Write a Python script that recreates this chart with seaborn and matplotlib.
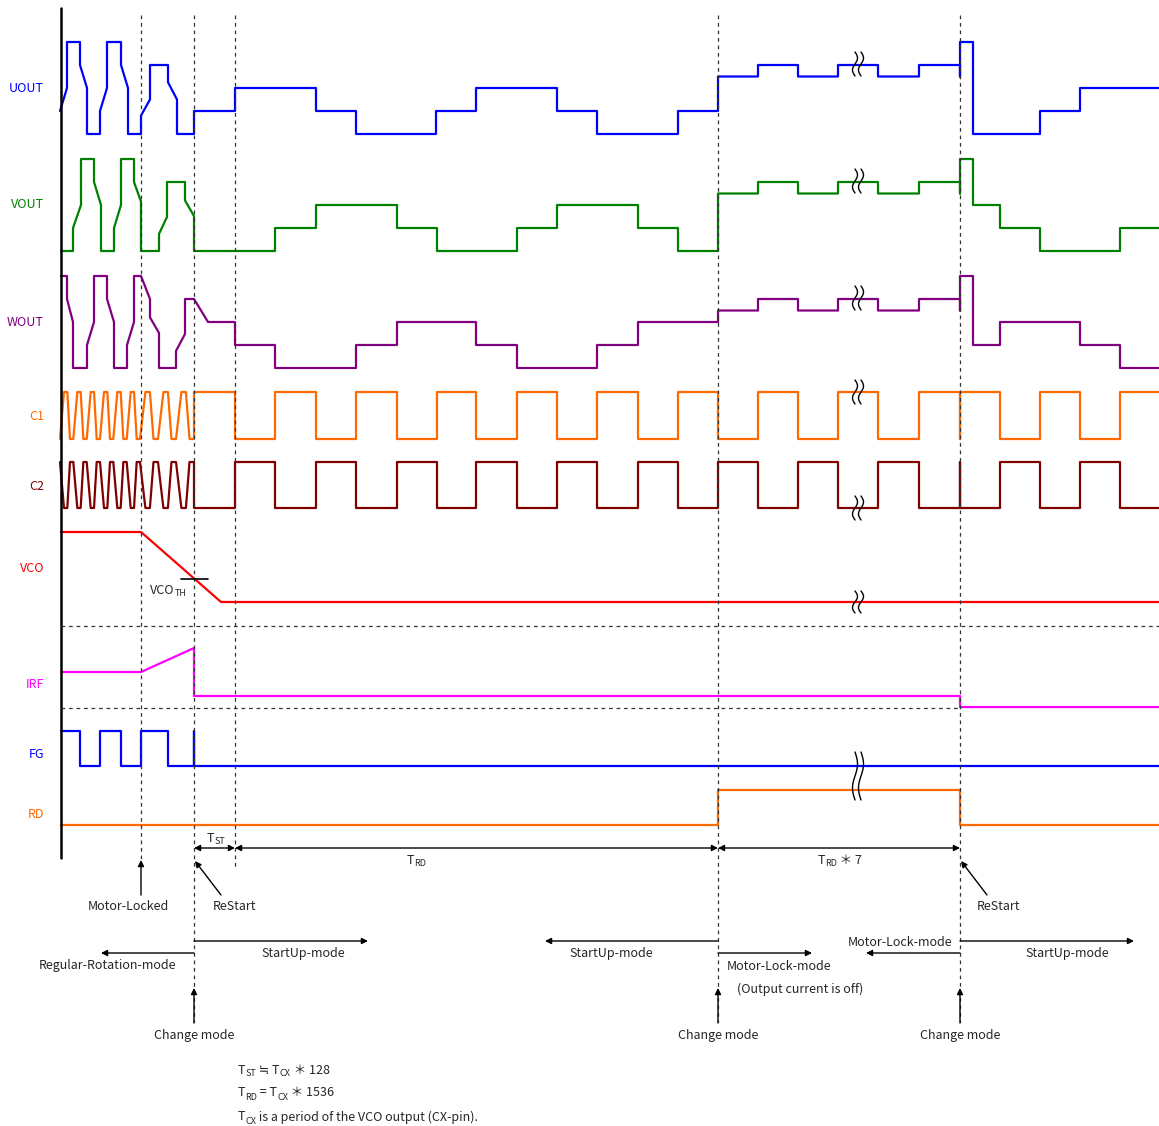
import matplotlib
matplotlib.use("Agg")
import matplotlib.pyplot as plt
import numpy as np
import pandas as pd
import seaborn as sns

sns.set_theme(style="white")
plt.rcParams['font.family'] = ['Noto Sans CJK JP', 'DejaVu Sans']

# ---- channel rows (time axis is in the drawing's own units) ----
channels = ['UOUT', 'VOUT', 'WOUT', 'C1', 'C2', 'VCO', 'IRF', 'FG', 'RD']
colors = ['#0000FF', '#008000', '#800080', '#FF6A00', '#800000',
          '#FF0000', '#FF00FF', '#0000FF', '#FF6A00']
baseline = [134, 251, 368, 439, 508, 602, 696, 766, 825]
unit = [23, 23, 23, 47, 46, 70, 24, 35, 35]
label_y = [88, 205, 322, 416, 486, 568, 685, 755, 814]

# ---- UOUT ----
uout_ramp_t = [60, 67, 67, 80, 80, 87, 87, 100, 100, 107, 107, 121, 121, 128, 128,
               141, 141, 150, 150, 168, 168, 177, 177, 194]
uout_ramp_v = [1, 2, 4, 4, 3, 2, 0, 0, 1, 2, 4, 4, 3, 2, 0,
               0, 0.8, 1.5, 3, 3, 2.25, 1.5, 0, 0]
uout_step_t = [194, 235, 316, 356, 436, 476, 557, 597, 678, 718, 758, 798, 838, 878, 919, 960]
uout_step_v = [1, 2, 1, 0, 1, 2, 1, 0, 1, 2.5, 3, 2.5, 3, 2.5, 3]
uout_tail_t = [960, 960, 973, 973, 1040, 1040, 1080, 1080, 1159]
uout_tail_v = [2.5, 4, 4, 0, 0, 1, 1, 2, 2]

# ---- VOUT ----
vout_ramp_t = [61, 73, 73, 81, 81, 94, 94, 101, 101, 114, 114, 121, 121, 134, 134,
               141, 141, 159, 159, 167, 167, 185, 185, 194]
vout_ramp_v = [0, 0, 1, 2, 4, 4, 3, 2, 0, 0, 1, 2, 4, 4, 3,
               2.15, 0, 0, 0.74, 1.48, 3, 3, 2.2, 1.52]
vout_step_t = [194, 275, 316, 397, 437, 517, 557, 638, 678, 718, 758, 798, 838, 878, 919, 960]
vout_step_v = [0, 1, 2, 1, 0, 1, 2, 1, 0, 2.5, 3, 2.5, 3, 2.5, 3]
vout_tail_t = [960, 960, 973, 973, 1000, 1000, 1040, 1040, 1120, 1120, 1159]
vout_tail_v = [2.5, 4, 4, 2, 2, 1, 1, 0, 0, 1, 1]

# ---- WOUT ----
wout_ramp_t = [61, 67, 67, 73, 73, 87, 87, 94, 94, 107, 107, 114, 114, 127, 127,
               134, 134, 141, 150, 150, 159, 159, 176, 176, 185, 185, 194, 208]
wout_ramp_v = [4, 4, 3, 2, 0, 0, 1, 2, 4, 4, 3, 2, 0, 0, 1,
               2, 4, 4, 3, 2.2, 1.52, 0, 0, 0.74, 1.48, 3, 3, 2]
wout_step_t = [208, 235, 275, 356, 397, 476, 517, 597, 638, 718, 758, 798, 838, 878, 919, 960]
wout_step_v = [2, 1, 0, 1, 2, 1, 0, 1, 2, 2.5, 3, 2.5, 3, 2.5, 3]
wout_tail_t = [960, 960, 973, 973, 1000, 1000, 1080, 1080, 1120, 1120, 1159]
wout_tail_v = [2.5, 4, 4, 1, 1, 2, 2, 1, 1, 0, 0]

# ---- C1 / C2 (C2 is the complement of C1) ----
osc_edges = [60, 73.3, 86.7, 100, 113.3, 126.7, 140, 158, 176, 194]
c1_step_t = [194, 235, 275, 316, 356, 397, 437, 476, 517, 557, 597, 638,
             678, 718, 758, 798, 838, 878, 919, 960]
c1_step_v = [1, 0, 1, 0, 1, 0, 1, 0, 1, 0, 1, 0, 1, 0, 1, 0, 1, 0, 1]
c1_tail_t = [960, 960, 1000, 1000, 1040, 1040, 1080, 1080, 1120, 1120, 1159]
c1_tail_v = [0, 1, 1, 0, 0, 1, 1, 0, 0, 1, 1]

# ---- VCO / IRF / FG / RD ----
vco_t = [61, 141, 221, 1159]
vco_v = [1, 1, 0, 0]
irf_t = [61, 141, 194, 194, 960, 960, 1159]
irf_v = [1, 1, 2, 0, 0, -0.46, -0.46]
fg_t = [61, 80, 80, 100, 100, 121, 121, 141, 141, 168, 168, 194, 194, 194, 1159]
fg_v = [1, 1, 0, 0, 1, 1, 0, 0, 1, 1, 0, 0, 1, 0, 0]
rd_t = [61, 718, 718, 960, 960, 1159]
rd_v = [0, 0, 1, 1, 0, 0]

# break marks: (y centre, half height)
break_x = 858
break_marks = [(64, 12), (181, 12), (298, 12), (392, 12), (508, 12), (602, 11), (776, 24)]


def steps(t, v):
    xs, ys = [], []
    for i, lev in enumerate(v):
        xs += [t[i], t[i + 1]]
        ys += [lev, lev]
    return xs, ys


def osc(edges, invert=False):
    xs, ys = [], []
    for s, e in zip(edges[:-1], edges[1:]):
        p = e - s
        xs += [s, s + 0.3 * p, s + 0.55 * p, s + 0.75 * p]
        ys += [0, 1, 1, 0]
    xs.append(edges[-1])
    ys.append(0)
    if invert:
        ys = [1 - y for y in ys]
    return xs, ys


def build(*parts):
    xs, ys = [], []
    for px, py in parts:
        xs += list(px)
        ys += list(py)
    return xs, ys


signals = {
    'UOUT': build((uout_ramp_t, uout_ramp_v), steps(uout_step_t, uout_step_v), (uout_tail_t, uout_tail_v)),
    'VOUT': build((vout_ramp_t, vout_ramp_v), steps(vout_step_t, vout_step_v), (vout_tail_t, vout_tail_v)),
    'WOUT': build((wout_ramp_t, wout_ramp_v), steps(wout_step_t, wout_step_v), (wout_tail_t, wout_tail_v)),
    'C1': build(osc(osc_edges), steps(c1_step_t, c1_step_v), (c1_tail_t, c1_tail_v)),
    'C2': build(osc(osc_edges, True), steps(c1_step_t, [1 - v for v in c1_step_v]),
                (c1_tail_t, [1 - v for v in c1_tail_v])),
    'VCO': (vco_t, vco_v),
    'IRF': (irf_t, irf_v),
    'FG': (fg_t, fg_v),
    'RD': (rd_t, rd_v),
}

fig = plt.figure(figsize=(11.59, 11.26), dpi=100)
ax = fig.add_axes([0, 0, 1, 1])

for i, name in enumerate(channels):
    xs, ys = signals[name]
    df = pd.DataFrame({'t': xs, 'y': [baseline[i] - v * unit[i] for v in ys]})
    sns.lineplot(data=df, x='t', y='y', ax=ax, sort=False, estimator=None,
                 color=colors[i], lw=1.6)
    ax.text(44, label_y[i], name, color=colors[i], fontsize=9, ha='right', va='center')

ax.set_xlim(0, 1159)
ax.set_ylim(1126, 0)
ax.axis('off')

renderer = fig.canvas.get_renderer()


def rich(x, y, parts, ha='left', size=9):
    # parts: (text, is_subscript); drawn one after another
    objs, cx = [], 0
    for s, sub in parts:
        t = ax.text(0, y + (4 if sub else 0), s, fontsize=size * 0.72 if sub else size,
                    ha='left', va='center')
        objs.append((t, cx))
        cx += t.get_window_extent(renderer).width
    x0 = x - cx / 2 if ha == 'center' else x
    for t, off in objs:
        t.set_x(x0 + off)


# left frame line
ax.plot([61, 61], [8, 858], color='black', lw=1.8)

# dashed guides
dash = dict(color='#333333', lw=0.9, ls=(0, (3, 3)))
for x, y1 in [(141, 868), (194, 1022), (235, 870), (718, 1022), (960, 1022)]:
    ax.plot([x, x], [15, y1], **dash)
ax.plot([61, 1159], [626, 626], **dash)
ax.plot([61, 960], [708, 708], **dash)

# VCO threshold marker
ax.plot([181, 208], [579, 579], color='black', lw=1.2)
rich(168, 590, [('VCO', 0), ('TH', 1)], ha='center')

# break marks
u = np.linspace(0, 1, 40)
for yc, h in break_marks:
    for dx in (-3, 3):
        ax.plot(break_x + dx + 2.5 * np.sin(2 * np.pi * u), yc - h + 2 * h * u,
                color='black', lw=1.0)


def arrow(x0, y0, x1, y1, style='-|>'):
    ax.annotate('', xy=(x1, y1), xytext=(x0, y0),
                arrowprops=dict(arrowstyle=style, color='black', lw=1.0,
                                mutation_scale=9, shrinkA=0, shrinkB=0))


# timing spans
arrow(194, 848, 235, 848, '<|-|>')
arrow(235, 848, 718, 848, '<|-|>')
arrow(718, 848, 960, 848, '<|-|>')
rich(216, 838, [('T', 0), ('ST', 1)], ha='center')
rich(416, 860, [('T', 0), ('RD', 1)], ha='center')
rich(840, 860, [('T', 0), ('RD', 1), (' ＊ 7', 0)], ha='center')

# event pointers
arrow(141, 895, 141, 860)
ax.text(128, 907, 'Motor-Locked', fontsize=9, ha='center', va='center')
arrow(221, 895, 195, 861)
ax.text(234, 907, 'ReStart', fontsize=9, ha='center', va='center')
arrow(987, 895, 961, 861)
ax.text(999, 907, 'ReStart', fontsize=9, ha='center', va='center')

# mode arrows
arrow(194, 941, 368, 941)
ax.text(303, 954, 'StartUp-mode', fontsize=9, ha='center', va='center')
arrow(194, 953, 101, 953)
ax.text(108, 966, 'Regular-Rotation-mode', fontsize=9, ha='center', va='center')
arrow(718, 941, 545, 941)
ax.text(611, 954, 'StartUp-mode', fontsize=9, ha='center', va='center')
arrow(718, 953, 812, 953)
ax.text(779, 966, 'Motor-Lock-mode', fontsize=9, ha='center', va='center')
ax.text(800, 989, '(Output current is off)', fontsize=9, ha='center', va='center')
arrow(960, 953, 866, 953)
ax.text(900, 942, 'Motor-Lock-mode', fontsize=9, ha='center', va='center')
arrow(960, 941, 1134, 941)
ax.text(1067, 954, 'StartUp-mode', fontsize=9, ha='center', va='center')

for x in (194, 718, 960):
    arrow(x, 1023, x, 988)
    ax.text(x, 1036, 'Change mode', fontsize=9, ha='center', va='center')

# notes
rich(238, 1070, [('T', 0), ('ST', 1), (' ≒ T', 0), ('CX', 1), (' ＊ 128', 0)])
rich(238, 1093, [('T', 0), ('RD', 1), (' = T', 0), ('CX', 1), (' ＊ 1536', 0)])
rich(238, 1117, [('T', 0), ('CX', 1), (' is a period of the VCO output (CX-pin).', 0)])

fig.savefig('out.png', dpi=100)
